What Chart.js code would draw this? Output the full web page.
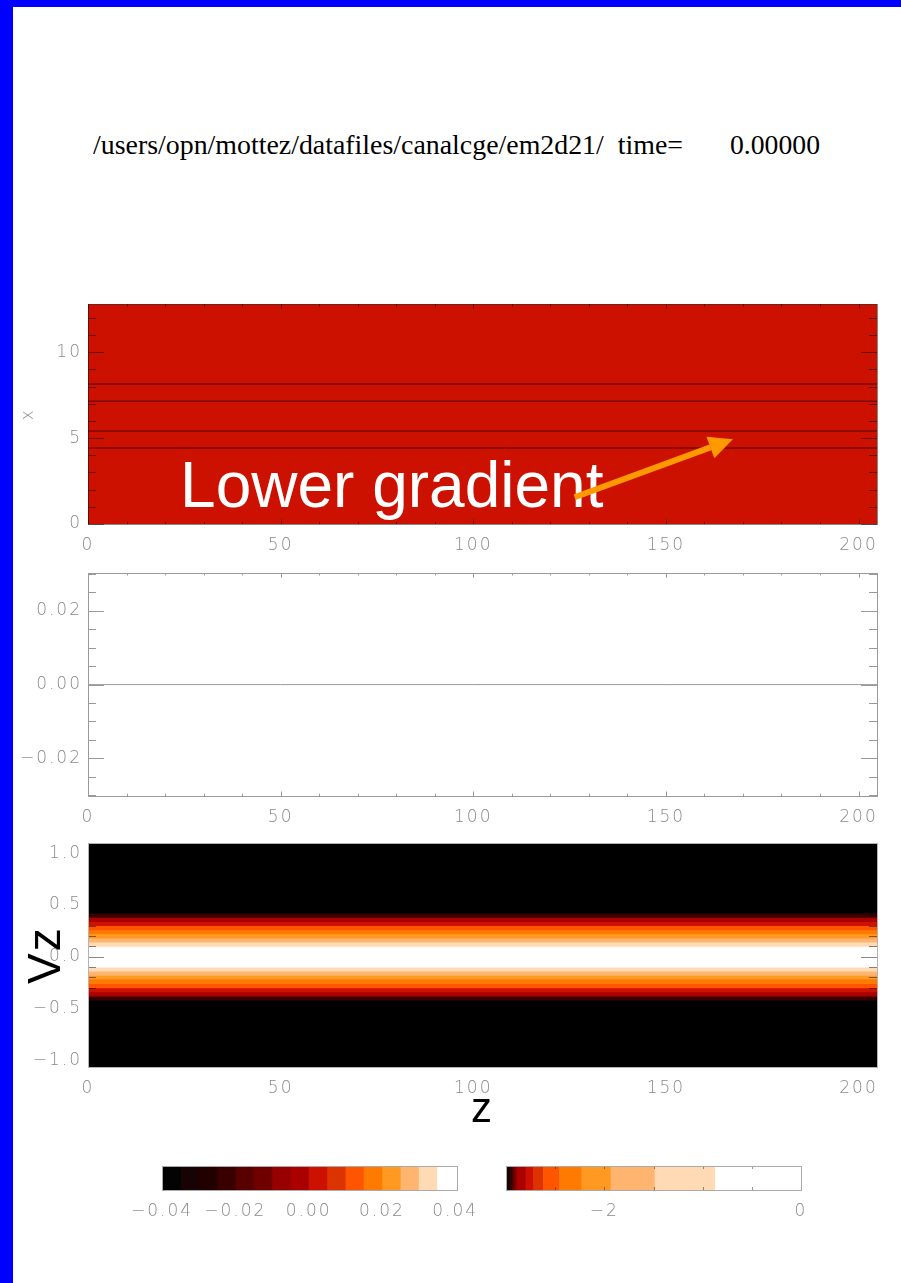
<!DOCTYPE html>
<html>
<head>
<meta charset="utf-8">
<script src="https://cdn.jsdelivr.net/npm/chart.js@4.4.0/dist/chart.umd.min.js"></script>
<style>
  html, body { margin: 0; padding: 0; background: #fff; }
  body { width: 901px; height: 1283px; position: relative; overflow: hidden; }
  .blue { position: absolute; background: #0000ff; }
  canvas { position: absolute; }
  .title { position: absolute; top: 132px; font-family: "Liberation Serif", "Times New Roman", serif;
           font-size: 27px; line-height: 27px; color: #000; white-space: pre; transform-origin: 0 0; }
</style>
</head>
<body>
<div class="blue" style="left:0;top:0;width:901px;height:7px"></div>
<div class="blue" style="left:0;top:0;width:13px;height:1283px"></div>

<div class="title" id="titlePath" style="left:93px">/users/opn/mottez/datafiles/canalcge/em2d21/  time=</div>
<div class="title" id="titleTime" style="left:730px">0.00000</div>

<canvas id="fieldMap" width="901" height="276" style="left:0;top:288px;width:901px;height:276px"></canvas>
<canvas id="fieldProfile" width="901" height="279" style="left:0;top:557px;width:901px;height:279px"></canvas>
<canvas id="phaseSpace" width="901" height="315" style="left:0;top:827px;width:901px;height:315px"></canvas>
<canvas id="barLinear" width="420" height="80" style="left:100px;top:1150px;width:420px;height:80px"></canvas>
<canvas id="barLog" width="380" height="80" style="left:470px;top:1150px;width:380px;height:80px"></canvas>

<script>
// ---- data ----
// z axis, shared by the three panels
const zRange = [0, 204.8];
const zTicks = [0, 50, 100, 150, 200];

// panel 1: field map (x vs z), uniform at t = 0 plus a few contour levels
const xRange = [0, 12.8];
const xTicks = [0, 5, 10];
const fieldValue = 0.0;
const contourLevels = [4.43, 5.41, 7.15, 8.15];

// panel 2: field profile along z
const profileZ = [0, 50, 100, 150, 200, 204.8];
const profileValue = [0, 0, 0, 0, 0, 0];
const profileRange = [-0.0302, 0.0302];
const profileTicks = [-0.02, 0, 0.02];

// panel 3: phase space vz vs z, log10 density per vz bin
const vzRange = [-1.065, 1.097];
const vzTicks = [-1, -0.5, 0, 0.5, 1];
const vzBins = [-0.44, -0.40, -0.36, -0.32, -0.28, -0.24, -0.20, -0.16, -0.12, -0.08, -0.04, 0,
                0.04, 0.08, 0.12, 0.16, 0.20, 0.24, 0.28, 0.32, 0.36, 0.40, 0.44];
const logDensity = [-3.10, -2.95, -2.86, -2.75, -2.60, -2.35, -2.00, -1.55, -1.10, -0.80, -0.50, -0.30,
                    -0.50, -0.80, -1.10, -1.55, -2.00, -2.35, -2.60, -2.75, -2.86, -2.95, -3.10];

// colour table (16 levels) and the two colour bars
const tableColors = ['#030303', '#170303', '#220000', '#3a0000', '#580000', '#700000', '#960000', '#aa0000',
                     '#cc1100', '#dd3300', '#ff5500', '#ff7a00', '#ff9922', '#ffb470', '#ffdab5', '#ffffff'];
const linearEdges = [-0.04, -0.035, -0.03, -0.025, -0.02, -0.015, -0.01, -0.005, 0,
                     0.005, 0.01, 0.015, 0.02, 0.025, 0.03, 0.035, 0.0405];
const linearTicks = [-0.04, -0.02, 0, 0.02, 0.04];
const logEdges = [-3, -2.985, -2.97, -2.955, -2.94, -2.925, -2.907, -2.888,
                  -2.804, -2.728, -2.627, -2.464, -2.237, -1.939, -1.491, -0.877, 0];
const logTicks = [-2, 0];

// annotation on panel 1 (data coordinates)
const noteText = 'Lower gradient';
const notePos = { z: 23.9, x: 1.0 };
const arrowFrom = { z: 126.3, x: 1.56 };
const arrowTo = { z: 167.4, x: 4.94 };

// ---- helpers ----
const labelGray = '#8a8a8a';
const labelFont = { family: "'DejaVu Sans', 'Liberation Sans', sans-serif", size: 17, weight: '200' };

function colourFor(v, edges, colours) {
  if (v < edges[0]) return '#000000';
  for (let i = 0; i < colours.length; i++) {
    if (v < edges[i + 1]) return colours[i];
  }
  return colours[colours.length - 1];
}

function signed(n) {
  return v => (v < 0 ? '\u2212' : '') + Math.abs(v).toFixed(n);
}

function axisX(ticks, range, fmt, height) {
  return {
    type: 'linear', position: 'bottom', min: range[0], max: range[1], offset: false,
    grid: { display: false, drawTicks: false }, border: { display: false },
    afterBuildTicks: s => { s.ticks = ticks.map(v => ({ value: v })); },
    afterFit: s => { s.height = height || 40; },
    ticks: { color: labelGray, font: labelFont, padding: 11, maxRotation: 0, autoSkip: false, callback: fmt }
  };
}

function axisY(ticks, range, fmt) {
  return {
    type: 'linear', position: 'left', min: range[0], max: range[1], offset: false,
    grid: { display: false, drawTicks: false }, border: { display: false },
    afterBuildTicks: s => { s.ticks = ticks.map(v => ({ value: v })); },
    afterFit: s => { s.width = 88; },
    ticks: { color: labelGray, font: labelFont, padding: 6, autoSkip: false, callback: fmt }
  };
}

function eachStep(min, max, step, major, fn) {
  if (!step) return;
  for (let v = Math.ceil(min / step - 1e-6) * step; v <= max + 1e-9; v += step) {
    const r = v / major;
    fn(v, Math.abs(r - Math.round(r)) < 1e-6);
  }
}

// IDL-like frame with inward ticks on all four sides
const idlAxes = {
  id: 'idlAxes',
  beforeDraw(chart, args, o) {
    const { ctx, chartArea: a } = chart;
    ctx.letterSpacing = '2px';
    if (o.fill) {
      ctx.fillStyle = o.fill;
      ctx.fillRect(a.left, a.top, a.right - a.left, a.bottom - a.top);
    }
  },
  afterDatasetsDraw(chart, args, o) {
    if (!o.tickColor) return;
    const { ctx, chartArea: a, scales } = chart;
    const xs = scales.x, ys = scales.y;
    ctx.save();
    ctx.lineWidth = 1;
    ctx.globalCompositeOperation = o.blend || 'source-over';
    ctx.strokeStyle = o.tickColor;
    ctx.beginPath();
    eachStep(xs.min, xs.max, o.xMinor, o.xMajor, (v, major) => {
      const px = Math.round(xs.getPixelForValue(v)) + 0.5;
      const len = major ? o.xLen : o.xLen / 2;
      ctx.moveTo(px, a.bottom); ctx.lineTo(px, a.bottom - len);
      ctx.moveTo(px, a.top); ctx.lineTo(px, a.top + len);
    });
    if (o.yMinor) {
      eachStep(ys.min, ys.max, o.yMinor, o.yMajor, (v, major) => {
        const py = Math.round(ys.getPixelForValue(v)) + 0.5;
        const len = major ? o.yLen : o.yLen / 2;
        ctx.moveTo(a.left, py); ctx.lineTo(a.left + len, py);
        ctx.moveTo(a.right, py); ctx.lineTo(a.right - len, py);
      });
    }
    ctx.stroke();
    ctx.globalCompositeOperation = o.frameBlend || 'source-over';
    ctx.strokeStyle = o.frameColor || o.tickColor;
    ctx.strokeRect(Math.round(a.left) + 0.5, Math.round(a.top) + 0.5,
                   Math.round(a.right - a.left), Math.round(a.bottom - a.top));
    ctx.restore();
  }
};
Chart.register(idlAxes);

const gradientNote = {
  id: 'gradientNote',
  afterDatasetsDraw(chart) {
    const { ctx, scales: { x, y } } = chart;
    ctx.save();
    ctx.letterSpacing = '0px';
    ctx.fillStyle = '#ffffff';
    ctx.font = "64px 'Liberation Sans', Arial, sans-serif";
    ctx.textBaseline = 'alphabetic';
    ctx.fillText(noteText, x.getPixelForValue(notePos.z), y.getPixelForValue(notePos.x));

    const x0 = x.getPixelForValue(arrowFrom.z), y0 = y.getPixelForValue(arrowFrom.x);
    const x1 = x.getPixelForValue(arrowTo.z), y1 = y.getPixelForValue(arrowTo.x);
    const ang = Math.atan2(y1 - y0, x1 - x0);
    const headLen = 24, headHalf = 11.5;
    const bx = x1 - headLen * Math.cos(ang), by = y1 - headLen * Math.sin(ang);
    ctx.strokeStyle = ctx.fillStyle = '#ff9900';
    ctx.lineWidth = 6;
    ctx.beginPath(); ctx.moveTo(x0, y0); ctx.lineTo(bx, by); ctx.stroke();
    ctx.beginPath();
    ctx.moveTo(x1, y1);
    ctx.lineTo(bx + headHalf * Math.sin(ang), by - headHalf * Math.cos(ang));
    ctx.lineTo(bx - headHalf * Math.sin(ang), by + headHalf * Math.cos(ang));
    ctx.closePath();
    ctx.fill();
    ctx.restore();
  }
};

const common = {
  responsive: false, animation: false, maintainAspectRatio: false,
  events: []
};

// ---- panel 1: field map ----
new Chart(document.getElementById('fieldMap'), {
  type: 'line',
  data: {
    datasets: contourLevels.map(lv => ({
      data: [{ x: zRange[0], y: lv }, { x: zRange[1], y: lv }],
      borderColor: '#7a0a00', borderWidth: 1.5, pointRadius: 0
    }))
  },
  options: Object.assign({}, common, {
    layout: { padding: { top: 13, right: 24, left: 0, bottom: 0 } },
    plugins: {
      legend: { display: false }, tooltip: { enabled: false },
      idlAxes: { fill: colourFor(fieldValue, linearEdges, tableColors), tickColor: '#888888', blend: 'multiply',
                 frameBlend: 'multiply', xMinor: 10, xMajor: 50, xLen: 4.5, yMinor: 1, yMajor: 5, yLen: 16 }
    },
    scales: {
      x: axisX(zTicks, zRange, v => String(v)),
      y: Object.assign(axisY(xTicks, xRange, v => String(v)), {
        title: { display: true, text: 'x', color: labelGray, font: labelFont, padding: { top: 18, bottom: 0 } }
      })
    }
  }),
  plugins: [gradientNote]
});

// ---- panel 2: field profile ----
new Chart(document.getElementById('fieldProfile'), {
  type: 'line',
  data: {
    datasets: [{
      data: profileZ.map((z, i) => ({ x: z, y: profileValue[i] })),
      borderColor: '#9a9a9a', borderWidth: 1, pointRadius: 0
    }]
  },
  options: Object.assign({}, common, {
    layout: { padding: { top: 13, right: 24, left: 0, bottom: 0 } },
    plugins: {
      legend: { display: false }, tooltip: { enabled: false },
      idlAxes: { tickColor: '#9a9a9a', xMinor: 10, xMajor: 50, xLen: 4.5, yMinor: 0.005, yMajor: 0.02, yLen: 16 }
    },
    scales: {
      x: axisX(zTicks, zRange, v => String(v)),
      y: axisY(profileTicks, profileRange, signed(2))
    }
  })
});

// ---- panel 3: phase space ----
new Chart(document.getElementById('phaseSpace'), {
  type: 'bar',
  data: {
    datasets: [{
      data: vzBins.map(v => ({ y: v, x: [zRange[0], zRange[1]] })),
      backgroundColor: logDensity.map(v => colourFor(v, logEdges, tableColors)),
      borderWidth: 0, categoryPercentage: 1, barPercentage: 1
    }]
  },
  options: Object.assign({}, common, {
    indexAxis: 'y',
    layout: { padding: { top: 13, right: 24, left: 0, bottom: 0 } },
    plugins: {
      legend: { display: false }, tooltip: { enabled: false },
      idlAxes: { fill: '#000000', tickColor: '#888888', blend: 'multiply', frameColor: '#b4b4b4',
                 xMinor: 10, xMajor: 50, xLen: 4.5, yMinor: 0.1, yMajor: 0.5, yLen: 16 }
    },
    scales: {
      x: Object.assign(axisX(zTicks, zRange, v => String(v), 75), {
        title: { display: true, text: 'z', color: '#000000',
                 font: { family: "'Liberation Sans', Arial, sans-serif", size: 42 }, padding: { top: 0, bottom: 6 } }
      }),
      y: Object.assign(axisY(vzTicks, vzRange, signed(1)), {
        title: { display: true, text: 'Vz', color: '#000000',
                 font: { family: "'Liberation Sans', Arial, sans-serif", size: 46 }, padding: { top: 20, bottom: 0 } }
      })
    }
  })
});

// ---- colour bars ----
function colourBar(id, edges, ticks, fmt, pad, axes) {
  new Chart(document.getElementById(id), {
    type: 'bar',
    data: {
      labels: ['bar'],
      datasets: tableColors.map((c, i) => ({
        data: [[edges[i], edges[i + 1]]],
        backgroundColor: c, borderWidth: 0, grouped: false,
        categoryPercentage: 1, barPercentage: 1
      }))
    },
    options: Object.assign({}, common, {
      indexAxis: 'y',
      layout: { padding: pad },
      plugins: { legend: { display: false }, tooltip: { enabled: false }, idlAxes: axes },
      scales: {
        x: axisX(ticks, [edges[0], edges[edges.length - 1]], fmt),
        y: { type: 'category', display: false }
      }
    })
  });
}

colourBar('barLinear', linearEdges, linearTicks, signed(2),
          { left: 62, right: 63, top: 16, bottom: 0 },
          { tickColor: '#aaaaaa', frameColor: '#aaaaaa' });
colourBar('barLog', logEdges, logTicks, v => (v < 0 ? '\u2212' : '') + Math.abs(v),
          { left: 36, right: 49, top: 16, bottom: 0 },
          { tickColor: '#999999', blend: 'multiply', frameColor: '#aaaaaa', xMinor: 0.5, xMajor: 0.5, xLen: 3 });

// ---- title: stretch to the width it has in the picture ----
function fitWidth(id, w) {
  const el = document.getElementById(id);
  el.style.transform = 'scaleX(' + (w / el.getBoundingClientRect().width) + ')';
}
fitWidth('titlePath', 590);
fitWidth('titleTime', 90);
</script>
</body>
</html>
